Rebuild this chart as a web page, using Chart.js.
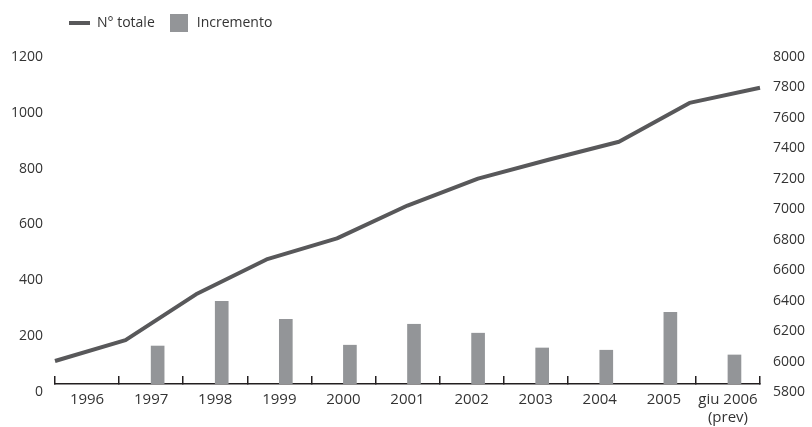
<!DOCTYPE html>
<html>
<head>
<meta charset="utf-8">
<script src="https://cdn.jsdelivr.net/npm/chart.js@4/dist/chart.umd.min.js"></script>
<style>
  html, body { margin: 0; padding: 0; background: #ffffff; }
  #wrap { position: relative; width: 812px; height: 427px; }
</style>
</head>
<body>
<div id="wrap"><canvas id="c" width="812" height="427"></canvas></div>
<script>
// ---- data ----
const categories = ['1996', '1997', '1998', '1999', '2000', '2001', '2002', '2003', '2004', '2005', ['giu 2006', '(prev)']];
const totale = [5951, 6088, 6389, 6618, 6756, 6972, 7149, 7273, 7391, 7646, 7745];
const incremento = [null, 136, 296, 232, 139, 214, 182, 129, 121, 257, 104];
const leftTicks = { min: 0, max: 1200, step: 200 };
const rightTicks = { min: 5800, max: 8000, step: 200 };
const seriesNames = ['N° totale', 'Incremento'];

const LINE_COLOR = '#58585a';
const BAR_COLOR = '#939598';
const TEXT_COLOR = '#333333';
const FONT = '"Open Sans", "DejaVu Sans", sans-serif';

// legend swatches
function makeSwatch(w, h, color) {
  const cv = document.createElement('canvas');
  cv.width = w; cv.height = h;
  const cx = cv.getContext('2d');
  cx.fillStyle = color;
  cx.fillRect(0, 0, w, h);
  return cv;
}
const lineSwatch = makeSwatch(21, 4, LINE_COLOR);
const boxSwatch = makeSwatch(18, 18, BAR_COLOR);

const plainNumber = function (v) { return String(v); };

const ctx = document.getElementById('c').getContext('2d');
new Chart(ctx, {
  data: {
    labels: categories,
    datasets: [
      {
        type: 'line',
        label: seriesNames[0],
        data: totale,
        xAxisID: 'x2',
        yAxisID: 'yR',
        borderColor: LINE_COLOR,
        backgroundColor: LINE_COLOR,
        borderWidth: 4,
        pointRadius: 0,
        pointHoverRadius: 0,
        tension: 0,
        borderJoinStyle: 'round',
        fill: false,
        order: 0
      },
      {
        type: 'bar',
        label: seriesNames[1],
        data: incremento,
        xAxisID: 'x',
        yAxisID: 'yL',
        backgroundColor: BAR_COLOR,
        borderWidth: 0,
        barThickness: 13,
        order: 1
      }
    ]
  },
  options: {
    responsive: false,
    animation: false,
    devicePixelRatio: 1,
    layout: { padding: { top: 3, left: 0, right: 0, bottom: 0 } },
    plugins: {
      tooltip: { enabled: false },
      // empty spacer between legend and plot area
      title: {
        display: true,
        text: '',
        position: 'top',
        fullSize: false,
        font: { size: 1, lineHeight: 1 },
        padding: { top: 0, bottom: 8 }
      },
      legend: {
        display: true,
        position: 'top',
        align: 'start',
        fullSize: false,
        weight: 3000,
        labels: {
          usePointStyle: true,
          pointStyleWidth: 22,
          padding: 13,
          color: TEXT_COLOR,
          font: { family: FONT, size: 14 },
          generateLabels: function (chart) {
            const items = Chart.defaults.plugins.legend.labels.generateLabels(chart);
            items.forEach(function (it) {
              it.pointStyle = it.datasetIndex === 0 ? lineSwatch : boxSwatch;
            });
            return items;
          }
        }
      }
    },
    scales: {
      x: {
        type: 'category',
        position: 'bottom',
        offset: true,
        grid: {
          display: true,
          offset: true,
          drawOnChartArea: false,
          drawTicks: true,
          tickLength: -8,
          lineWidth: 1.5,
          color: function (c) {
            if (c.index === 9) return 'rgba(0,0,0,0)';
            if (c.index === 11) return '#b0b0b0';
            return '#231f20';
          }
        },
        border: { display: true, color: '#231f20', width: 1.5 },
        ticks: {
          color: TEXT_COLOR,
          font: { family: FONT, size: 15, lineHeight: 1.25 },
          padding: 14,
          maxRotation: 0,
          autoSkip: false
        },
        afterFit: function (s) { s.height = 43; }
      },
      x2: {
        type: 'category',
        labels: categories,
        offset: false,
        display: false
      },
      yL: {
        type: 'linear',
        position: 'left',
        min: leftTicks.min,
        max: leftTicks.max,
        grid: { display: false, drawTicks: false, tickLength: 0 },
        border: { display: false },
        ticks: {
          stepSize: leftTicks.step,
          color: TEXT_COLOR,
          font: { family: FONT, size: 14 },
          padding: 12,
          labelOffset: 8,
          callback: plainNumber
        },
        afterFit: function (s) { s.width = 55; }
      },
      yR: {
        type: 'linear',
        position: 'right',
        min: rightTicks.min,
        max: rightTicks.max,
        grid: { display: false, drawTicks: false, tickLength: 0 },
        border: { display: false },
        ticks: {
          stepSize: rightTicks.step,
          color: TEXT_COLOR,
          font: { family: FONT, size: 14 },
          padding: 13,
          labelOffset: 8,
          callback: plainNumber
        },
        afterFit: function (s) { s.width = 52; }
      }
    }
  }
});
</script>
</body>
</html>
